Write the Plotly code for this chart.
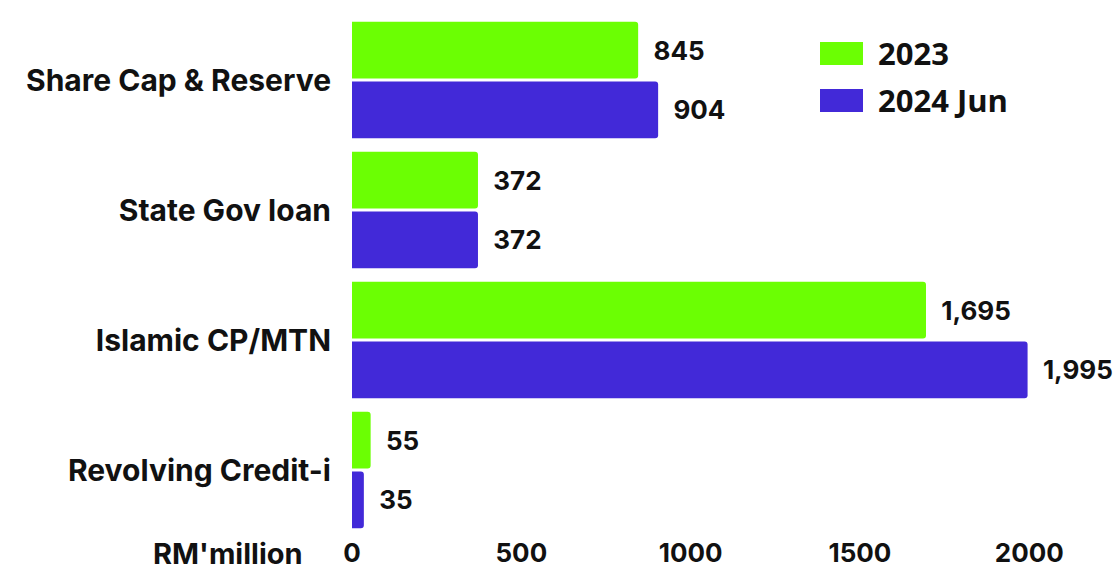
import plotly.graph_objects as go

categories = ["Share Cap & Reserve", "State Gov loan", "Islamic CP/MTN", "Revolving Credit-i"]
series_names = ["2023", "2024 Jun"]
values_2023 = [845, 372, 1695, 55]
values_2024 = [904, 372, 1995, 35]
x_ticks = [0, 500, 1000, 1500, 2000]
axis_title = "RM'million"

colors = ["#6BFF03", "#4229D8"]

W, H = 1120, 572
ml, mr, mt, mb = 352, 23, 15, 37
pw, ph = W - ml - mr, H - mt - mb

def fmt(v):
    return f"{v:,}"

fig = go.Figure()
for name, vals, col in zip(series_names, [values_2023, values_2024], colors):
    fig.add_trace(go.Bar(
        y=categories, x=vals, name=name, orientation="h",
        marker=dict(color=col, line=dict(width=0)),
        text=["  " + fmt(v) for v in vals], textposition="outside",
        textfont=dict(family="Inter", size=26, color="#111111", weight="bold"),
        cliponaxis=False, showlegend=False,
    ))

fig.update_layout(
    width=W, height=H,
    margin=dict(l=ml, r=mr, t=mt, b=mb, autoexpand=False),
    plot_bgcolor="white", paper_bgcolor="white",
    barmode="group", bargap=0.08, bargroupgap=0.05,
    barcornerradius=3,
    showlegend=False,
    font=dict(family="Inter", color="#111111"),
)
fig.update_xaxes(range=[0, 2200], tickvals=x_ticks, ticktext=[str(t) for t in x_ticks],
                 showgrid=False, zeroline=False, showline=False, ticks="", automargin=False,
                 tickfont=dict(family="Inter", size=26, color="#111111", weight="bold"),
                 ticklabelstandoff=0)

fig.update_yaxes(autorange="reversed", showgrid=False, zeroline=False, showline=False, ticks="",
                 automargin=False,
                 tickfont=dict(family="Inter", size=30, color="#111111", weight="bold"),
                 ticklabelstandoff=20)

# axis unit label
fig.add_annotation(text=axis_title, xref="paper", yref="paper",
                   x=(305 - ml) / pw, y=-(553 - (mt + ph)) / ph,
                   xanchor="right", yanchor="middle", showarrow=False,
                   font=dict(family="Inter", size=29, color="#111111", weight="bold"))

# custom legend
leg_rows = [(42, 65), (89, 112)]
for (ya, yb), name, col in zip(leg_rows, series_names, colors):
    fig.add_shape(type="rect", xref="paper", yref="paper",
                  x0=(820 - ml) / pw, x1=(863 - ml) / pw,
                  y0=(mt + ph - yb) / ph, y1=(mt + ph - ya) / ph,
                  fillcolor=col, line=dict(width=0))
    fig.add_annotation(text=name, xref="paper", yref="paper",
                       x=(876 - ml) / pw, y=(mt + ph - (ya + yb) / 2) / ph,
                       xanchor="left", yanchor="middle", showarrow=False,
                       font=dict(family="Open Sans", size=31, color="#111111", weight="bold"))

fig.write_html("out.html")
